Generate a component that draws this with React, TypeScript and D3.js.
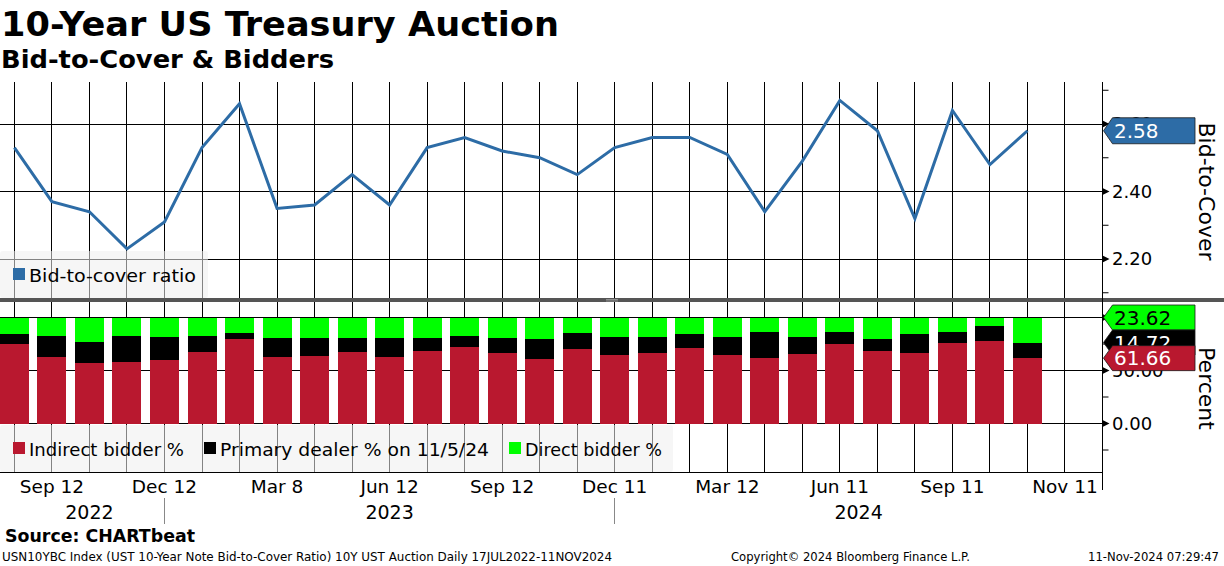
import React from "react";
import * as d3 from "d3";

// one entry per 10-year auction, Aug 2022 .. Nov 2024
const auctionMonths = [
  "Aug 2022", "Sep 2022", "Oct 2022", "Nov 2022", "Dec 2022",
  "Jan 2023", "Feb 2023", "Mar 2023", "Apr 2023", "May 2023", "Jun 2023",
  "Jul 2023", "Aug 2023", "Sep 2023", "Oct 2023", "Nov 2023", "Dec 2023",
  "Jan 2024", "Feb 2024", "Mar 2024", "Apr 2024", "May 2024", "Jun 2024",
  "Jul 2024", "Aug 2024", "Sep 2024", "Oct 2024", "Nov 2024",
];

const bidToCover = [
  2.53, 2.37, 2.34, 2.23, 2.31, 2.53, 2.66, 2.35, 2.36, 2.45, 2.36, 2.53, 2.56, 2.52,
  2.5, 2.45, 2.53, 2.56, 2.56, 2.51, 2.34, 2.49, 2.67, 2.58, 2.32, 2.64, 2.48, 2.58,
];

const indirectBidder = [
  75.0, 62.7, 57.1, 58.0, 59.9, 67.5, 79.7, 62.7, 63.7, 67.5, 62.7, 68.4, 72.2, 66.5,
  60.8, 70.3, 64.6, 66.5, 71.2, 64.6, 61.8, 65.6, 75.0, 68.4, 66.5, 75.9, 77.8, 61.66,
];
const primaryDealer = [
  9.4, 19.8, 19.8, 24.5, 21.7, 15.0, 5.7, 18.0, 17.0, 13.2, 18.0, 12.3, 10.3, 14.2,
  18.9, 15.1, 17.0, 15.1, 13.2, 17.0, 24.5, 16.0, 11.3, 11.3, 17.9, 10.4, 14.2, 14.72,
];
const directBidder = [
  15.6, 17.5, 23.1, 17.5, 18.4, 17.5, 14.6, 19.3, 19.3, 19.3, 19.3, 19.3, 17.5, 19.3,
  20.3, 14.6, 18.4, 18.4, 15.6, 18.4, 13.7, 18.4, 13.7, 20.3, 15.6, 13.7, 8.0, 23.62,
];

const tickIndex = [1, 4, 7, 10, 13, 16, 19, 22, 25, 28];
const tickLabels = ["Sep 12", "Dec 12", "Mar 8", "Jun 12", "Sep 12", "Dec 11", "Mar 12", "Jun 11", "Sep 11", "Nov 11"];
const yearLabels = ["2022", "2023", "2024"];
const yearLabelIndex = [2, 10, 22.5];
const yearBreakIndex = [4, 16];

const ratioTicks = [2.2, 2.4, 2.6];
const ratioMinor = [2.1, 2.3, 2.5, 2.7];
const pctTicks = [0, 50, 100];
const pctMinor = [-25, 25, 75];

const W = 1224;
const H = 566;
const AXIS_X = 1102.5;
const TOP = { y0: 82, y1: 298 };
const BOT = { y0: 302, y1: 472 };
const FONT = "DejaVu Sans";

const BLUE = "#2d6ca6";
const RED = "#b9182f";
const GREEN = "#00ff00";

const Tag = ({ y, fill, text, color, h }: { y: number; fill: string; text: string; color: string; h: number }) => (
  <g>
    <path
      d={`M${AXIS_X + 1},${y} L${AXIS_X + 10},${y - h / 2} L1195,${y - h / 2} L1195,${y + h / 2} L${AXIS_X + 10},${y + h / 2} Z`}
      fill={fill}
      stroke="#1a1a1a"
      strokeWidth={0.8}
    />
    <text x={1114} y={y} dy="0.36em" fontSize={20} fill={color} fontFamily={FONT}>
      {text}
    </text>
  </g>
);

const App = () => {
  const n = auctionMonths.length;
  const x = d3.scaleLinear().domain([0, 29]).range([14.4, AXIS_X]);
  const yTop = d3.scaleLinear().domain([2.2, 2.6]).range([259, 124]);
  const yBot = d3.scaleLinear().domain([0, 100]).range([423.5, 317.5]);

  const line = d3
    .line<number>()
    .x((_, i) => x(i))
    .y((d) => yTop(d));

  const rows = auctionMonths.map((m, i) => ({
    month: m,
    indirect: indirectBidder[i],
    dealer: primaryDealer[i],
    direct: directBidder[i],
  }));
  const stack = d3.stack<any>().keys(["indirect", "dealer", "direct"])(rows);
  const colors: Record<string, string> = { indirect: RED, dealer: "#000", direct: GREEN };
  const barW = 29;

  const gridIdx = d3.range(0, 29);
  const last = n - 1;

  return (
    <svg
      width={W}
      height={H}
      style={{ position: "absolute", left: 0, top: 0, background: "#fff" }}
      fontFamily={FONT}
    >
      <defs>
        <clipPath id="plotClip">
          <rect x={0} y={0} width={AXIS_X} height={H} />
        </clipPath>
      </defs>

      {/* titles */}
      <text x={1} y={36} fontSize={34} fontWeight="bold" textLength={558} lengthAdjust="spacingAndGlyphs">
        10-Year US Treasury Auction
      </text>
      <text x={1} y={68} fontSize={24} fontWeight="bold" textLength={333} lengthAdjust="spacingAndGlyphs">
        Bid-to-Cover &amp; Bidders
      </text>

      {/* grid lines */}
      <g stroke="#000" strokeWidth={1} shapeRendering="crispEdges">
        {gridIdx.map((i) => (
          <g key={i}>
            <line x1={x(i)} x2={x(i)} y1={TOP.y0} y2={TOP.y1} />
            <line x1={x(i)} x2={x(i)} y1={BOT.y0} y2={BOT.y1} />
          </g>
        ))}
        {ratioTicks.map((t) => (
          <line key={t} x1={0} x2={AXIS_X} y1={yTop(t)} y2={yTop(t)} />
        ))}
        {pctTicks.map((t) => (
          <line key={t} x1={0} x2={AXIS_X} y1={yBot(t)} y2={yBot(t)} />
        ))}
      </g>

      {/* bid-to-cover line */}
      <path d={line(bidToCover) || ""} fill="none" stroke={BLUE} strokeWidth={3} />

      {/* stacked bars */}
      <g clipPath="url(#plotClip)" shapeRendering="crispEdges">
        {stack.map((layer) => (
          <g key={layer.key} fill={colors[layer.key]}>
            {layer.map((d, i) => (
              <rect
                key={i}
                x={x(i) - barW / 2}
                width={barW}
                y={yBot(d[1])}
                height={yBot(d[0]) - yBot(d[1])}
              />
            ))}
          </g>
        ))}
      </g>

      {/* legends */}
      <rect x={0} y={251} width={208} height={47} rx={3} fill="#eeeeee" opacity={0.55} />
      <rect x={13} y={268} width={12} height={12} fill={BLUE} />
      <text x={29} y={282} fontSize={18} textLength={167} lengthAdjust="spacingAndGlyphs">
        Bid-to-cover ratio
      </text>

      <rect x={0} y={425} width={673} height={47} rx={3} fill="#eeeeee" opacity={0.55} />
      <rect x={13} y={442} width={12} height={12} fill={RED} />
      <text x={29} y={456} fontSize={18} textLength={155} lengthAdjust="spacingAndGlyphs">
        Indirect bidder %
      </text>
      <rect x={204} y={442} width={12} height={12} fill="#000" />
      <text x={220} y={456} fontSize={18} textLength={269} lengthAdjust="spacingAndGlyphs">
        Primary dealer % on 11/5/24
      </text>
      <rect x={509} y={442} width={12} height={12} fill={GREEN} />
      <text x={525} y={456} fontSize={18} textLength={137} lengthAdjust="spacingAndGlyphs">
        Direct bidder %
      </text>

      {/* panel divider */}
      <rect x={0} y={298} width={W} height={4} fill="#555" />
      <line x1={606} x2={618} y1={299.5} y2={299.5} stroke="#aaa" strokeWidth={0.7} />
      <line x1={606} x2={618} y1={301} y2={301} stroke="#aaa" strokeWidth={0.7} />

      {/* right axis */}
      <line x1={AXIS_X} x2={AXIS_X} y1={TOP.y0} y2={490} stroke="#000" strokeWidth={1} shapeRendering="crispEdges" />
      <line x1={0} x2={AXIS_X} y1={BOT.y1} y2={BOT.y1} stroke="#000" strokeWidth={1} shapeRendering="crispEdges" />

      {ratioTicks.map((t) => (
        <g key={t}>
          <path d={`M${AXIS_X},${yTop(t) - 3.5} L${AXIS_X + 7},${yTop(t)} L${AXIS_X},${yTop(t) + 3.5} Z`} fill="#000" />
          <text x={1112} y={yTop(t)} dy="0.36em" fontSize={18}>
            {d3.format(".2f")(t)}
          </text>
        </g>
      ))}
      {ratioMinor.map((t) => (
        <line key={t} x1={AXIS_X} x2={AXIS_X + 6} y1={yTop(t)} y2={yTop(t)} stroke="#000" />
      ))}
      {pctTicks.map((t) => (
        <g key={t}>
          <path d={`M${AXIS_X},${yBot(t) - 3.5} L${AXIS_X + 7},${yBot(t)} L${AXIS_X},${yBot(t) + 3.5} Z`} fill="#000" />
          <text x={1112} y={yBot(t)} dy="0.36em" fontSize={18}>
            {d3.format(".2f")(t)}
          </text>
        </g>
      ))}
      {pctMinor.map((t) => (
        <line key={t} x1={AXIS_X} x2={AXIS_X + 6} y1={yBot(t)} y2={yBot(t)} stroke="#000" />
      ))}

      {/* last value tags */}
      <Tag y={yTop(bidToCover[last])} fill={BLUE} text={d3.format(".2f")(bidToCover[last])} color="#fff" h={26} />
      <Tag y={yBot(100)} fill={GREEN} text={d3.format(".2f")(directBidder[last])} color="#000" h={25} />
      <Tag
        y={yBot(indirectBidder[last] + primaryDealer[last])}
        fill="#000"
        text={d3.format(".2f")(primaryDealer[last])}
        color="#fff"
        h={25}
      />
      <Tag y={yBot(indirectBidder[last])} fill={RED} text={d3.format(".2f")(indirectBidder[last])} color="#fff" h={25} />

      <text transform={`translate(1199,191.5) rotate(90)`} textAnchor="middle" fontSize={22}>
        Bid-to-Cover
      </text>
      <text transform={`translate(1199,388.5) rotate(90)`} textAnchor="middle" fontSize={22}>
        Percent
      </text>

      {/* x axis labels */}
      {tickIndex.map((ti, k) => (
        <text key={ti} x={x(ti)} y={493} textAnchor="middle" fontSize={18.5}>
          {tickLabels[k]}
        </text>
      ))}
      {yearLabels.map((yl, k) => (
        <text key={yl} x={x(yearLabelIndex[k])} y={519} textAnchor="middle" fontSize={19}>
          {yl}
        </text>
      ))}
      {yearBreakIndex.map((bi) => (
        <line key={bi} x1={x(bi)} x2={x(bi)} y1={498} y2={524} stroke="#888" strokeWidth={1} shapeRendering="crispEdges" />
      ))}

      {/* footer */}
      <text x={5} y={542} fontSize={17} fontWeight="bold" textLength={190} lengthAdjust="spacingAndGlyphs">
        Source: CHARTbeat
      </text>
      <text x={2} y={561} fontSize={12.5} textLength={610} lengthAdjust="spacingAndGlyphs">
        USN10YBC Index (UST 10-Year Note Bid-to-Cover Ratio) 10Y UST Auction  Daily 17JUL2022-11NOV2024
      </text>
      <text x={731} y={561} fontSize={12.5} textLength={239} lengthAdjust="spacingAndGlyphs">
        Copyright© 2024 Bloomberg Finance L.P.
      </text>
      <text x={1088} y={561} fontSize={12.5} textLength={131} lengthAdjust="spacingAndGlyphs">
        11-Nov-2024 07:29:47
      </text>
    </svg>
  );
};

export default App;
